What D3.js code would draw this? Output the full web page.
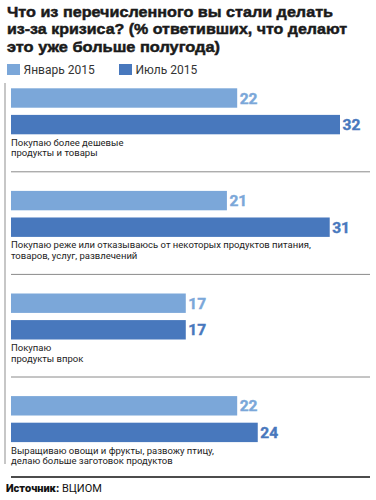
<!DOCTYPE html>
<html><head><meta charset="utf-8">
<script src="https://cdn.jsdelivr.net/npm/d3@7"></script>
<style>
html,body{margin:0;padding:0;background:#fff;}
svg{display:block;font-family:Roboto, "Noto Sans", sans-serif;}
</style></head>
<body>
<script>
const titleLines = ["Что из перечисленного вы стали делать", "из-за кризиса? (% ответивших, что делают", "это уже больше полугода)"];
const seriesNames = ["Январь 2015", "Июль 2015"];
const categories = [
  ["Покупаю более дешевые", "продукты и товары"],
  ["Покупаю реже или отказываюсь от некоторых продуктов питания,", "товаров, услуг, развлечений"],
  ["Покупаю", "продукты впрок"],
  ["Выращиваю овощи и фрукты, развожу птицу,", "делаю больше заготовок продуктов"]
];
const jan2015 = [22, 21, 17, 22];
const jul2015 = [32, 31, 17, 24];
const sourceLabel = "Источник:";
const sourceName = "ВЦИОМ";

const colors = ["#7ba7d9", "#4878bd"];
const W = 376, H = 500;
const svg = d3.select("body").append("svg").attr("width", W).attr("height", H);

// Title
const titleWidths = [326, 340, 213];
svg.append("g").selectAll("text").data(titleLines).join("text")
  .attr("x", 7).attr("y", (d, i) => 16.5 + i * 17.5)
  .attr("font-family", "'Liberation Sans', Arial, sans-serif")
  .attr("font-size", 15.5).attr("font-weight", 700).attr("fill", "#1a1a1a")
  .attr("stroke", "#1a1a1a").attr("stroke-width", 0.5)
  .attr("textLength", (d, i) => titleWidths[i]).attr("lengthAdjust", "spacingAndGlyphs")
  .text(d => d);

// Legend
const leg = svg.append("g").selectAll("g").data(seriesNames).join("g")
  .attr("transform", (d, i) => `translate(${i === 0 ? 7 : 119},0)`);
leg.append("rect").attr("x", 0).attr("y", 64).attr("width", 13).attr("height", 11).attr("fill", (d, i) => colors[i]);
leg.append("text").attr("x", 16.5).attr("y", 74).attr("font-size", 12).attr("fill", "#333").text(d => d);

// Scales
const groupIdx = d3.range(categories.length);
const yGroup = d3.scaleBand().domain(groupIdx).range([88.3, 88.3 + 102.6 * categories.length]).paddingInner(0);
const ySeries = d3.scaleBand().domain([0, 1]).range([0, 46]).paddingInner(0.27).paddingOuter(0);
const x = d3.scaleLinear().domain([0, 32]).range([11, 340]);

// Left vertical line
svg.append("line").attr("x1", 5).attr("x2", 5).attr("y1", 83).attr("y2", 464)
  .attr("stroke", "#b5b5b5").attr("stroke-width", 1.5);

const data = groupIdx.map(i => ({ i, vals: [jan2015[i], jul2015[i]], label: categories[i] }));
const g = svg.append("g").selectAll("g").data(data).join("g")
  .attr("transform", d => `translate(0,${yGroup(d.i)})`);

g.selectAll("rect").data(d => d.vals.map((v, s) => ({ v, s }))).join("rect")
  .attr("x", x(0)).attr("y", d => ySeries(d.s))
  .attr("width", d => x(d.v) - x(0)).attr("height", ySeries.bandwidth())
  .attr("fill", d => colors[d.s]);

g.selectAll("text.val").data(d => d.vals.map((v, s) => ({ v, s }))).join("text")
  .attr("class", "val")
  .attr("x", d => x(d.v) + 2.5).attr("y", d => ySeries(d.s) + ySeries.bandwidth() / 2 + 5.5)
  .attr("font-size", 15.5).attr("font-weight", 700).attr("fill", d => colors[d.s])
  .attr("stroke", d => colors[d.s]).attr("stroke-width", 0.4)
  .text(d => d.v);

g.selectAll("text.cat").data(d => d.label).join("text")
  .attr("class", "cat")
  .attr("x", 11).attr("y", (d, k) => 57.5 + k * 10.5)
  .attr("font-size", 9.5).attr("fill", "#222")
  .text(d => d);

// separators
g.filter(d => d.i < categories.length - 1).append("line")
  .attr("x1", 11).attr("x2", 370).attr("y1", 83.5).attr("y2", 83.5)
  .attr("stroke", "#8a8a8a").attr("stroke-width", 1);

// bottom line
svg.append("line").attr("x1", 11).attr("x2", 370).attr("y1", 477).attr("y2", 477)
  .attr("stroke", "#111").attr("stroke-width", 1.5);

const src = svg.append("text").attr("x", 6).attr("y", 492).attr("font-size", 11).attr("fill", "#111");
src.append("tspan").attr("font-weight", 900).text(sourceLabel);
src.append("tspan").text(" " + sourceName);
</script>
</body></html>
